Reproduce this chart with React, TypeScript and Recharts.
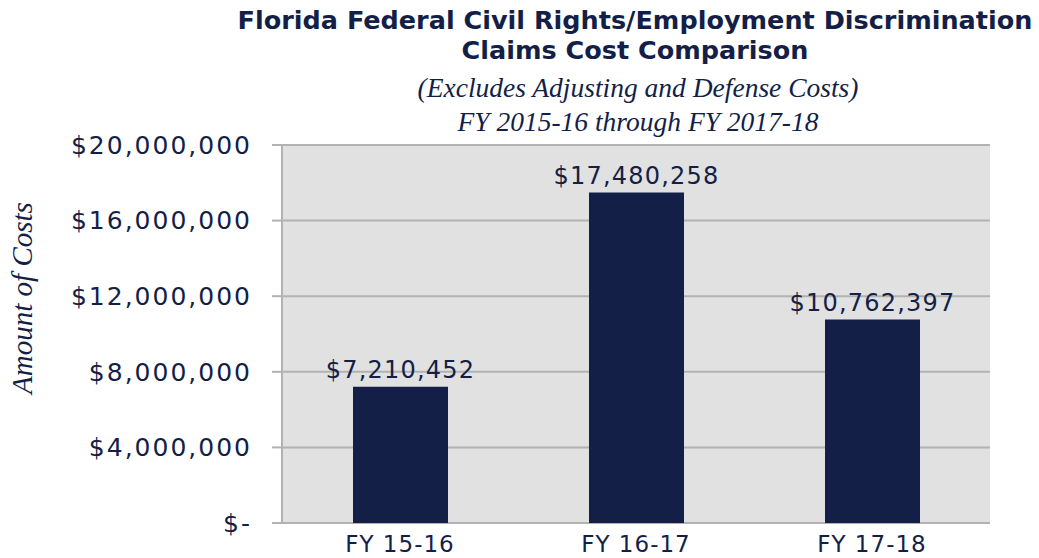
import React from 'react';
import {
  BarChart,
  Bar,
  XAxis,
  YAxis,
  CartesianGrid,
  LabelList,
} from 'recharts';

const years = ['FY 15-16', 'FY 16-17', 'FY 17-18'];
const costs = [7210452, 17480258, 10762397];
const yTicks = [0, 4000000, 8000000, 12000000, 16000000, 20000000];
const edgeTicks = [0, 1, 2, 3];

const data = years.map((year, i) => ({ year, cost: costs[i] }));

const NAVY = '#141f48';
const GRID = '#b2b2b2';
const sans = '"DejaVu Sans", sans-serif';
const serif = '"Liberation Serif", "DejaVu Serif", serif';

const money = (v: number) => (v === 0 ? '$-' : '$' + v.toLocaleString('en-US'));

const App: React.FC = () => {
  return (
    <div style={{ position: 'absolute', left: 0, top: 0, width: 1039, height: 558, background: '#fff' }}>
      <div
        style={{
          position: 'absolute',
          left: 0,
          width: 1270,
          top: 5,
          textAlign: 'center',
          fontFamily: sans,
          fontWeight: 'bold',
          fontSize: 25.5,
          lineHeight: '30px',
          color: NAVY,
          whiteSpace: 'nowrap',
        }}
      >
        Florida Federal Civil Rights/Employment Discrimination
        <br />
        Claims Cost Comparison
      </div>
      <div
        style={{
          position: 'absolute',
          left: 0,
          width: 1276,
          top: 71,
          textAlign: 'center',
          fontFamily: serif,
          fontStyle: 'italic',
          fontSize: 27.5,
          lineHeight: '34px',
          color: NAVY,
          whiteSpace: 'nowrap',
        }}
      >
        (Excludes Adjusting and Defense Costs)
        <br />
        FY 2015-16 through FY 2017-18
      </div>
      <div
        style={{
          position: 'absolute',
          left: 22,
          top: 298,
          transform: 'translate(-50%, -50%) rotate(-90deg)',
          whiteSpace: 'nowrap',
          fontFamily: serif,
          fontStyle: 'italic',
          fontSize: 29,
          color: NAVY,
        }}
      >
        Amount of Costs
      </div>
      <div style={{ position: 'absolute', left: 0, top: 0 }}>
        <BarChart
          width={1039}
          height={558}
          data={data}
          margin={{ top: 145, right: 49, bottom: 0, left: 0 }}
        >
          <CartesianGrid
            vertical={false}
            fill="#e1e1e1"
            stroke={GRID}
            strokeWidth={2}
          />
          <XAxis
            xAxisId="edges"
            type="number"
            domain={[0, 3]}
            ticks={edgeTicks}
            tick={false}
            tickSize={10}
            axisLine={{ stroke: GRID, strokeWidth: 2 }}
            tickLine={{ stroke: GRID, strokeWidth: 2 }}
            height={0}
          />
          <XAxis
            dataKey="year"
            axisLine={false}
            tickLine={false}
            height={35}
            tickMargin={7}
            tick={{ fill: NAVY, fontSize: 23, fontFamily: sans, letterSpacing: 1 }}
          />
          <YAxis
            width={282}
            domain={[0, 20000000]}
            ticks={yTicks}
            interval={0}
            tickFormatter={money}
            tickSize={10}
            tickMargin={20}
            axisLine={{ stroke: GRID, strokeWidth: 2 }}
            tickLine={{ stroke: GRID, strokeWidth: 2 }}
            tick={{ fill: NAVY, fontSize: 25, fontFamily: sans, letterSpacing: 2 }}
          />
          <Bar dataKey="cost" xAxisId={0} fill={NAVY} barSize={95} isAnimationActive={false}>
            <LabelList
              dataKey="cost"
              position="top"
              offset={9}
              formatter={(v: any) => money(Number(v))}
              fill={NAVY}
              fontSize={24}
              fontFamily={sans}
              letterSpacing={1.2}
            />
          </Bar>
        </BarChart>
      </div>
    </div>
  );
};

export default App;
